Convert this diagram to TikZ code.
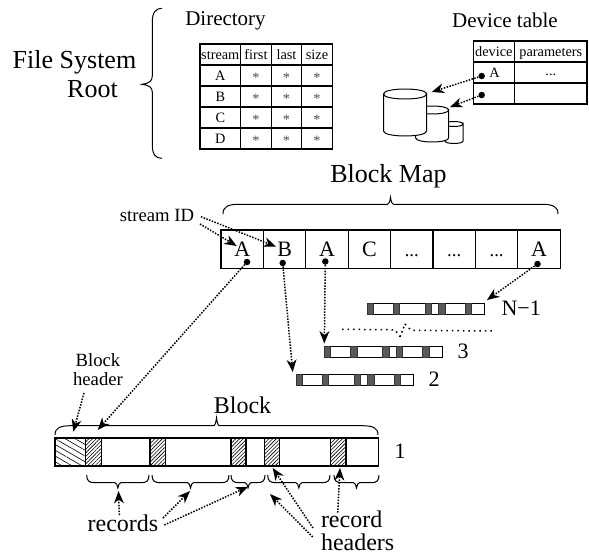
\documentclass[tikz,border=0pt]{standalone}
\usepackage{fontspec}
\setmainfont{Liberation Serif}
\usetikzlibrary{arrows.meta,patterns.meta}
\tikzset{
 x=1pt,y=-1pt,
 txt/.style={inner sep=0pt,outer sep=0pt,font=\fontsize{#1}{#1}\selectfont},
 cell/.style={draw,line width=1.1pt,inner sep=0pt,outer sep=0pt,text height=9.5pt,text depth=0pt,font=\fontsize{14.3}{14.3}\selectfont},
 mapcell/.style={draw,line width=1.1pt,inner sep=0pt,outer sep=0pt,minimum width=42.4pt,minimum height=38.7pt,text height=14.5pt,text depth=0pt,font=\fontsize{22}{22}\selectfont},
 spot/.style={circle,fill=black,inner sep=0pt,minimum size=6.5pt},
 dotline/.style={line width=1.5pt,dash pattern=on 1.5pt off 1.4pt,-{Stealth[length=12.5pt,width=10pt,inset=4pt,line width=0pt]}},
 bracket/.style={line width=1pt},
 bar/.style={draw,line width=1pt,fill=white,inner sep=0pt,outer sep=0pt,anchor=north west,minimum width=117.7pt,minimum height=11.3pt},
 rechdr/.style={draw,line width=1.1pt,pattern={Lines[angle=45,distance=2.6pt,line width=.6pt]}},
 blockhdr/.style={draw,line width=1.1pt,pattern={Lines[angle=-30,distance=5pt,line width=.6pt]}},
 dark/.style={draw=black!80,line width=.7pt,fill=black!65},
}
\newcommand{\cylinder}[5]{% x1 x2 ytop ybot ry
 \pgfmathsetmacro{\kk}{#5*1.33}
 \draw[line width=1pt,fill=white] (#1,#3) -- (#1,#4) .. controls (#1,#4+\kk) and (#2,#4+\kk) .. (#2,#4) -- (#2,#3)
   .. controls (#2,#3+\kk) and (#1,#3+\kk) .. (#1,#3) .. controls (#1,#3-\kk) and (#2,#3-\kk) .. (#2,#3);
}
\newcommand{\stripes}[3]{% x y height
 \foreach \s in {0,26.2,58.2,71.6,98.2}{
  \draw[dark] (#1+\s,#2) rectangle (#1+\s+6.5,#2+#3);
 }
}
% horizontal brace: x1 x2 yend yspine ytip rx
\newcommand{\hbrace}[6]{%
 \pgfmathsetmacro{\xm}{(#1+#2)/2}
 \draw[bracket] (#1,#3) .. controls (#1,{#3+0.75*(#4-#3)}) and ({#1+0.3*#6},#4) .. ({#1+#6},#4)
  -- ({\xm-3},#4) .. controls ({\xm-1.5},#4) and ({\xm-0.6},{#4+0.4*(#5-#4)}) .. (\xm,#5)
  .. controls ({\xm+0.6},{#4+0.4*(#5-#4)}) and ({\xm+1.5},#4) .. ({\xm+3},#4)
  -- ({#2-#6},#4) .. controls ({#2-0.3*#6},#4) and (#2,{#3+0.75*(#4-#3)}) .. (#2,#3);
}
\def\ddd{{\fontsize{18.7}{18.7}\selectfont ...}}
\begin{document}
\begin{tikzpicture}
\useasboundingbox (0,0) rectangle (589,557);
% titles
\node[txt=26,anchor=center] (fs) at (74.5,62) {File System};
\node[txt=26,anchor=center] (root) at (92.5,89) {Root};
\draw[bracket] (162,8.3) .. controls (156,8.3) and (152.3,12) .. (152.3,22) -- (152.3,76)
  .. controls (152.3,81) and (149,83.5) .. (142,84.3) .. controls (149,85) and (152.3,87.5) .. (152.3,92)
  -- (152.3,145) .. controls (152.3,155) and (156,158.3) .. (162,158.3);
\node[txt=21,anchor=center] (dir) at (225.5,21) {Directory};
\node[txt=21,anchor=center] (dev) at (505,20) {Device table};
% directory table
\foreach \cx/\w/\nm/\t in {220.3/40.6/a/stream,256/30.6/b/first,286.5/30.4/c/last,317/30.6/d/size}{
 \node[cell,minimum width=\w pt,minimum height=21pt] (dir\nm0) at (\cx,54.5) {\t};
}
\foreach \ro/\cy/\L in {1/75.5/A,2/96.5/B,3/117.5/C,4/138.5/D}{
 \node[cell,minimum width=40.6pt,minimum height=21pt] (dira\ro) at (220.3,\cy) {\L};
 \foreach \cx/\w/\nm in {256/30.6/b,286.5/30.4/c,317/30.6/d}{
  \node[cell,minimum width=\w pt,minimum height=21pt] (dir\nm\ro) at (\cx,\cy) {\raisebox{-2.5pt}{\textcolor{black!70}{*}}};
 }
}
% device table
\node[cell,minimum width=41.7pt,minimum height=21pt] (devA) at (493.9,51.5) {device};
\node[cell,minimum width=72.3pt,minimum height=21pt] (devB) at (550.8,51.5) {parameters};
\node[cell,minimum width=41.7pt,minimum height=21pt] (devC) at (493.9,72.5) {};
\node[cell,minimum width=72.3pt,minimum height=21pt] (devD) at (550.8,72.5) {\raisebox{1.5pt}{...}};
\node[cell,minimum width=41.7pt,minimum height=21pt] (devE) at (493.9,93.5) {};
\node[cell,minimum width=72.3pt,minimum height=21pt] (devF) at (550.8,93.5) {};
\node[txt=14.3] (devL) at (494.5,73) {A};
\node[spot] (dv1) at (481.7,76) {};
\node[spot] (dv2) at (481.7,95) {};
% disks
\cylinder{445}{463}{124}{141}{2.5}
\cylinder{415.7}{448.7}{110}{138}{4}
\cylinder{383.5}{426.7}{94}{131}{5}
\coordinate (disk1) at (431.7,92);
\coordinate (disk2) at (450,107);
\draw[dotline] (dv1) -- (disk1);
\draw[dotline] (dv2) -- (disk2);
% block map
\node[txt=26,anchor=center] (bm) at (388.5,176) {Block Map};
\hbrace{223}{558}{214}{204.3}{197.3}{16}
\foreach \i/\cx/\t in {1/242.2/A,2/284.6/B,3/327/A,4/369.4/C,5/411.8/\ddd,6/454.2/\ddd,7/496.6/\ddd,8/539/A}{
 \node[mapcell] (m\i) at (\cx,249.3) {\t};
}
\node[spot] (s1) at (247,262) {};
\node[spot] (s2) at (282.7,263) {};
\node[spot] (s3) at (325.3,261.5) {};
\node[spot] (s8) at (537.5,264) {};
\node[txt=18.7,anchor=center] (sid) at (157,215.5) {stream ID};
\coordinate (sidA) at (200,224);
\coordinate (sidB) at (201,216.7);
\coordinate (tipA) at (236.7,246);
\coordinate (tipB) at (276,246.7);
\draw[dotline] (sidA) -- (tipA);
\draw[dotline] (sidB) -- (tipB);
% stream bars
\node[bar] (barN) at (367,303) {};
\stripes{367}{303}{11.3}
\node[bar] (bar3) at (324.3,346) {};
\stripes{324.3}{346}{11.3}
\node[bar] (bar2) at (296,374.3) {};
\stripes{296}{374.3}{11.3}
\node[txt=22,anchor=west] (lN) at (501.5,308.5) {N−1};
\node[txt=22,anchor=center] (l3) at (463,351) {3};
\node[txt=22,anchor=center] (l2) at (434,379.5) {2};
\draw[line width=1.5pt,dash pattern=on 1.5pt off 4pt] (342,329.3) -- (395,329.8) -- (400,336.7);
\draw[line width=1.5pt,dash pattern=on 1.5pt off 4pt] (405,324) -- (411,330.3) -- (493,331);
\draw[line width=1.5pt,dash pattern=on 1.5pt off 3pt] (400,336.7) -- (405,324);
\coordinate (endN) at (487,300);
\coordinate (end3) at (324.3,343.5);
\coordinate (end2) at (292.7,372);
\draw[dotline] (s8) -- (endN);
\draw[dotline] (s3) -- (end3);
\draw[dotline] (s2) -- (end2);
% block 1
\node[txt=24,anchor=center] (blk) at (242.5,405) {Block};
\hbrace{55}{378}{435}{425.7}{417.7}{16}
\node[draw,line width=1.1pt,inner sep=0pt,outer sep=0pt,minimum width=323.3pt,minimum height=28pt] (b1) at (216.65,452) {};
\draw[blockhdr] (55,438) rectangle (85.5,466);
\foreach \xa/\xb in {85.5/101.5,150/165.7,231/246,264.3/279.7,330.7/346}{
 \draw[rechdr] (\xa,438) rectangle (\xb,466);
}
\node[txt=22,anchor=center] (l1) at (400,451) {1};
\node[txt=18.7,anchor=center] (bh1) at (98,360) {Block};
\node[txt=18.7,anchor=center] (bh2) at (98,379.5) {header};
\coordinate (bhs) at (84,393);
\coordinate (bhe) at (73.3,431.7);
\coordinate (rh1) at (97.7,430);
\draw[dotline] (bhs) -- (bhe);
\draw[dotline] (s1) -- (rh1);
% record braces
\foreach \xa/\xb in {86.7/149,152/229,231/265,267.7/330,334/379}{
 \hbrace{\xa}{\xb}{475}{482.7}{488}{8}
}
\node[txt=24,anchor=base] (rec) at (123,531.7) {records};
\node[txt=24,anchor=base west] (rec2) at (321,527.7) {record};
\node[txt=24,anchor=base west] (rec3) at (321,550.5) {headers};
\coordinate (r1a) at (119.3,515);
\coordinate (r1b) at (118.5,491);
\coordinate (r2a) at (163,518);
\coordinate (r2b) at (190,491);
\coordinate (r3a) at (164.3,525);
\coordinate (r3b) at (248,486.7);
\coordinate (h1a) at (313,528);
\coordinate (h1b) at (272.7,468);
\coordinate (h2a) at (312.7,537);
\coordinate (h2b) at (270,494);
\coordinate (h3a) at (337.7,512.7);
\coordinate (h3b) at (340,468);
\foreach \i in {r1,r2,r3,h1,h2,h3}{
 \draw[dotline] (\i a) -- (\i b);
}
\end{tikzpicture}
\end{document}
